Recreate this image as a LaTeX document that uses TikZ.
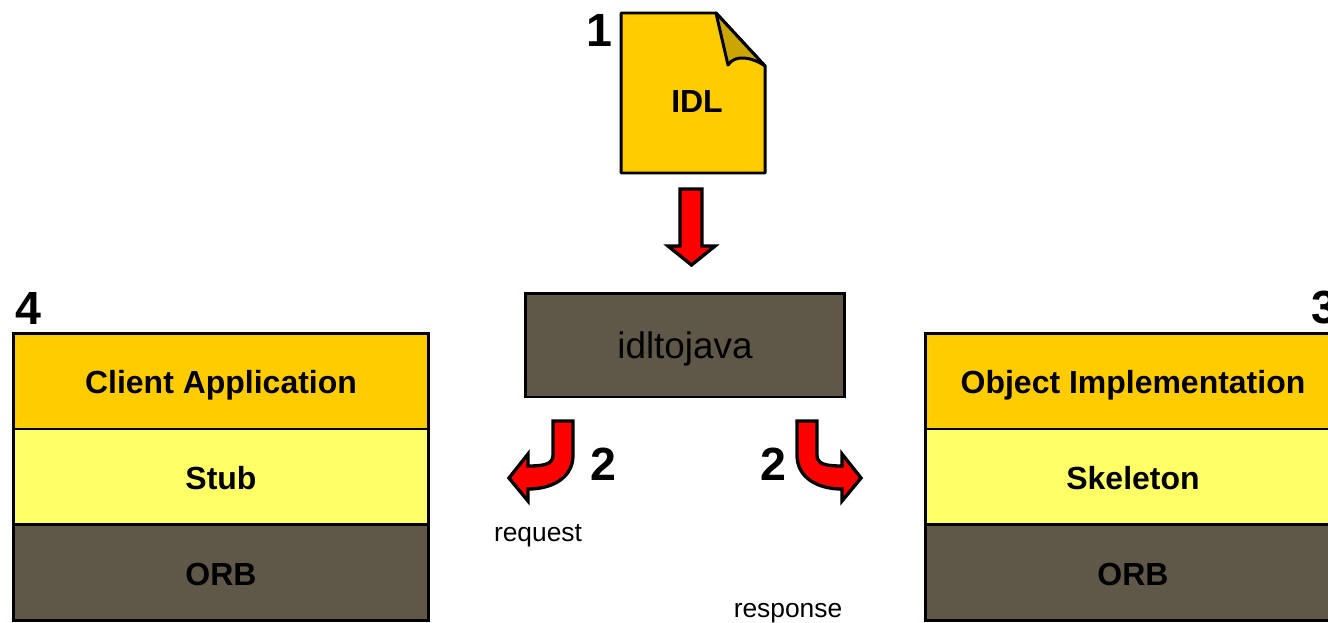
\documentclass[tikz,border=0pt]{standalone}
\usepackage{fontspec}
\setmainfont{Liberation Sans}
\usepackage{tikz}
\usetikzlibrary{positioning}
\definecolor{idlgold}{HTML}{FFCC00}
\definecolor{idlfold}{HTML}{CCA600}
\definecolor{stublight}{HTML}{FFFF66}
\definecolor{orbdark}{HTML}{5F5849}
\tikzset{
	layer/.style = {draw, line width=1.7pt, outer sep=0pt, minimum width=8.32cm, minimum height=1.92cm, text height=15pt, text depth=1pt, font=\fontsize{18.2}{20}\selectfont\bfseries},
	bigarrow/.style = {draw, line width=1.9pt, fill=red, line join=miter},
	stepnum/.style = {font=\fontsize{26.5}{30}\selectfont\bfseries, inner sep=0pt},
	caption/.style = {font=\fontsize{15}{17}\selectfont, inner sep=0pt}
}

\begin{document}
\begin{tikzpicture}[x=.02cm, y=-.02cm]
	    \clip (0,0) rectangle (1328,622);
	    % idl file
	    \draw[line width=1.7pt, fill=idlgold, line join=round] (621,13) -- (716,13) -- (765,66) -- (765,173) -- (621,173) -- cycle;
	    \draw[line width=1.7pt, fill=idlfold, line join=round] (716,13) -- (765,66) .. controls (752,57) and (735,54) .. (728,65) -- cycle;
	    \node[font=\fontsize{18.2}{20}\selectfont\bfseries] at (697,101) (idl) {IDL};
	    \node[stepnum] at (599,30) (one) {1};
	    \draw[bigarrow] (680,189) -- (702,189) -- (702,246) -- (715,246) -- (691.5,265) -- (668,246) -- (680,246) -- cycle;
	    % compiler
	    \node[draw, line width=1.7pt, fill=orbdark, minimum width=6.4cm, minimum height=2.08cm, text height=16pt, text depth=1.2pt, font=\fontsize{21}{24}\selectfont] at (685,345) (idltojava) {idltojava};
	    \draw[bigarrow] (553,421) -- (573,421) -- (573,455) .. controls (573,478) and (552,489) .. (528,489) -- (528,501) -- (509,478) -- (528,454) -- (528,466) .. controls (545,466) and (553,464) .. (553,455) -- cycle;
	    \draw[bigarrow] (817,421) -- (797,421) -- (797,455) .. controls (797,478) and (818,489) .. (842,489) -- (842,501) -- (861,478) -- (842,454) -- (842,466) .. controls (825,466) and (817,464) .. (817,455) -- cycle;
	    \node[stepnum] at (603,464) (twoleft) {2};
	    \node[stepnum] at (773,464) (tworight) {2};
	    \node[caption] at (538,536) (request) {request};
	    \node[caption] at (788,613) (response) {response};
	    % client side
	    \node[layer, fill=idlgold] at (221,381) (client) {Client Application};
	    \node[layer, fill=stublight, below=0cm of client] (stub) {Stub};
	    \node[layer, fill=orbdark, below=0cm of stub] (orbleft) {ORB};
	    \node[stepnum] at (28,308) (four) {4};
	    % server side
	    \node[layer, fill=idlgold] at (1133,381) (object) {Object Implementation};
	    \node[layer, fill=stublight, below=0cm of object] (skeleton) {Skeleton};
	    \node[layer, fill=orbdark, below=0cm of skeleton] (orbright) {ORB};
	    \node[stepnum] at (1324,308) (three) {3};
\end{tikzpicture}
\end{document}
